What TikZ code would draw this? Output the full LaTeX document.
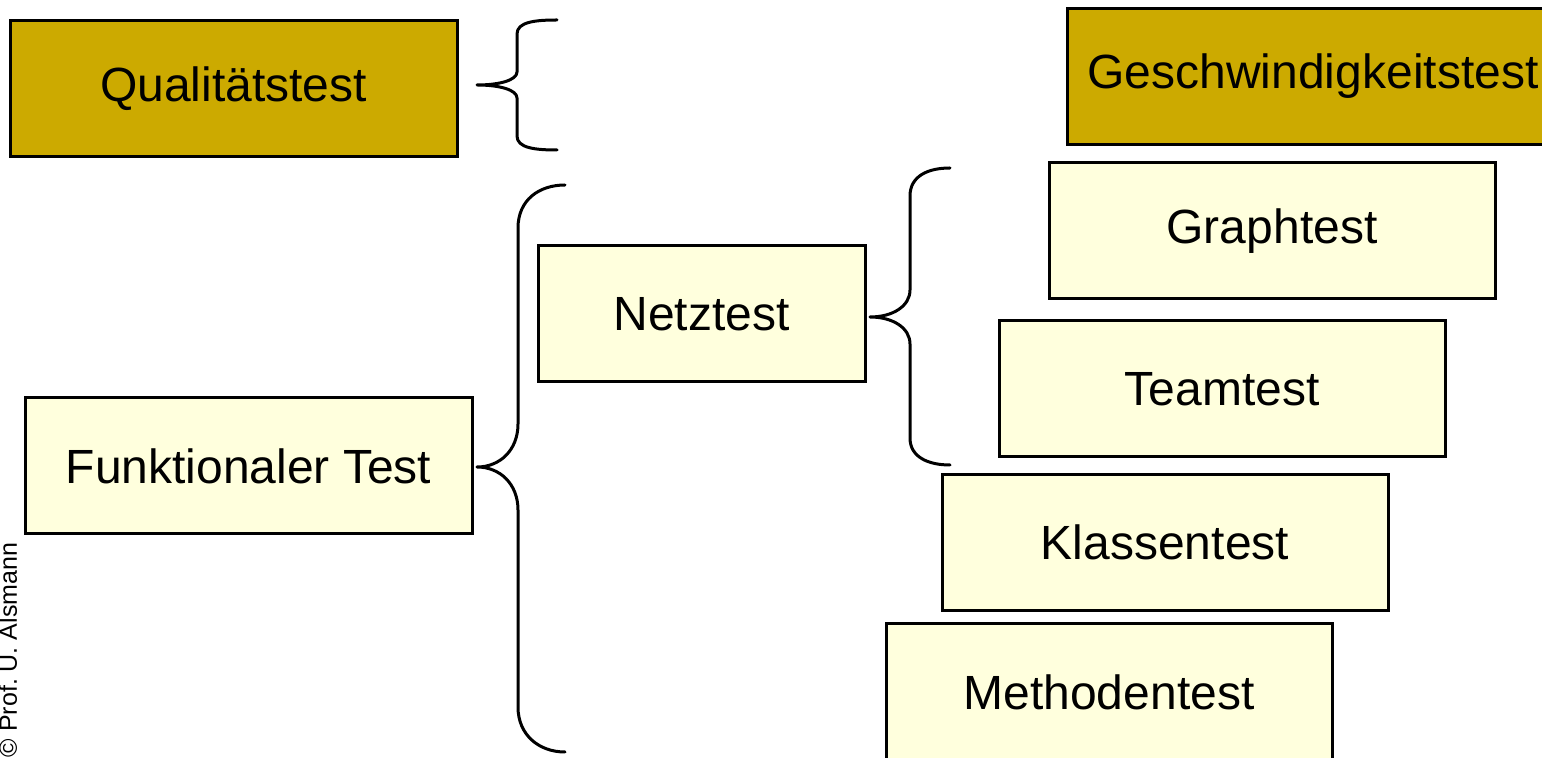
\documentclass[tikz,border=0pt]{standalone}
\usepackage{fontspec}
\setmainfont{Liberation Sans}
\frenchspacing
\definecolor{gold}{RGB}{204,170,0}
\definecolor{pale}{RGB}{255,255,221}
\begin{document}
\begin{tikzpicture}[x=0.5pt,y=-0.5pt,
  box/.style={draw=black,line width=1.5pt,minimum height=68pt,inner sep=0pt,font=\fontsize{24}{28}\selectfont},
  goldbox/.style={box,fill=gold},
  palebox/.style={box,fill=pale},
  brace/.style={draw=black,line width=1.5pt,line cap=round,line join=round}]
\useasboundingbox (0,0) rectangle (1542,758);
\node[goldbox,minimum width=223.5pt] (qual) at (233.5,88.5) {Qualitätstest};
\node[goldbox,minimum width=246pt] (gesch) at (1313,76.5) {Geschwindigkeitstest};
\node[palebox,minimum width=223pt] (graph) at (1272,231) {Graphtest};
\node[palebox,minimum width=223pt] (team) at (1222,389) {Teamtest};
\node[palebox,minimum width=223pt] (klassen) at (1165,542.5) {Klassentest};
\node[palebox,minimum width=223pt] (methoden) at (1109,692) {Methodentest};
\node[palebox,minimum width=163.5pt] (netz) at (701.5,314) {Netztest};
\node[palebox,minimum width=223.5pt] (funk) at (248.5,466) {Funktionaler Test};
\node[rotate=90,font=\fontsize{12.5}{14}\selectfont] (copy) at (8,650) {© Prof. U. Alsmann};
% brace of Qualitaetstest
\draw[brace] (557,20) .. controls (535,20) and (517,22) .. (517,34) -- (517,72)
  .. controls (517,80) and (500,85) .. (477,85) .. controls (500,85) and (517,90) .. (517,98)
  -- (517,136) .. controls (517,148) and (535,150) .. (557,150);
% brace of Funktionaler Test
\draw[brace] (565,185) .. controls (539,185) and (518,200) .. (518,228) -- (518,424)
  .. controls (518,450) and (500,467) .. (477,467) .. controls (500,467) and (518,484) .. (518,510)
  -- (518,707) .. controls (518,735) and (539,752) .. (565,752);
% brace of Netztest
\draw[brace] (950,168) .. controls (928,168) and (910,176) .. (910,196) -- (910,290)
  .. controls (910,306) and (893,317) .. (870,317) .. controls (893,317) and (910,328) .. (910,344)
  -- (910,438) .. controls (910,457) and (928,465) .. (950,465);
\end{tikzpicture}
\end{document}
